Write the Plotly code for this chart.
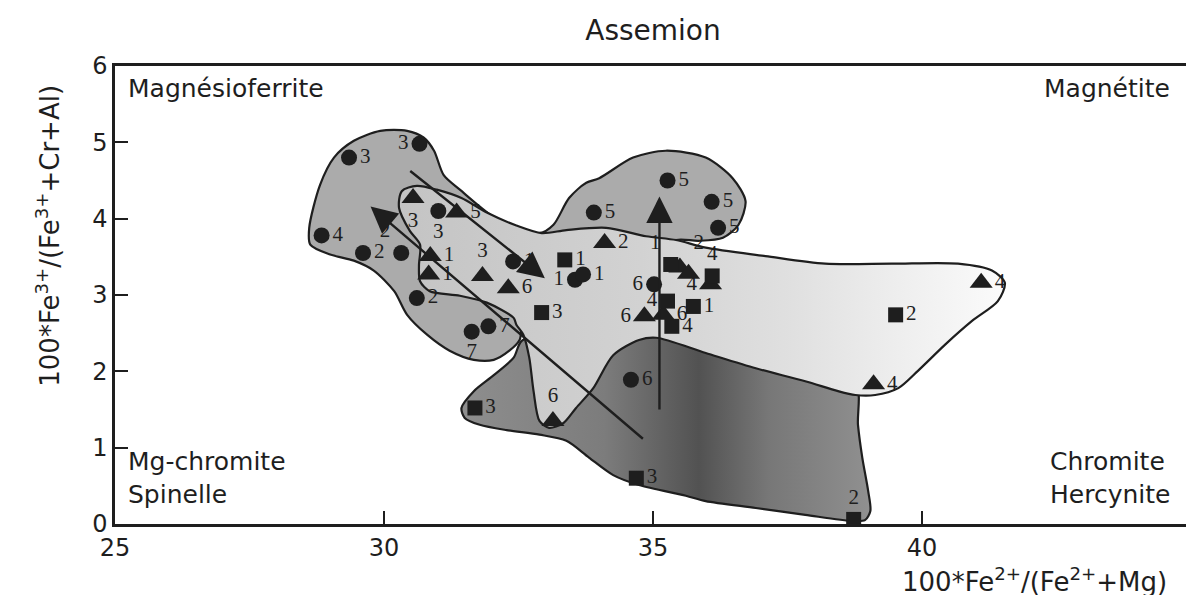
import plotly.graph_objects as go

# contours des domaines (lecture sur la figure)
gris_x = [28.63, 28.61, 28.81, 29.07, 29.44, 29.93, 30.43, 30.74, 30.93, 31.11, 31.41, 32.15, 32.89,
          33.15, 33.44, 33.76, 34.00, 34.63, 35.24, 35.98, 36.48, 36.72, 36.59, 36.30, 35.85, 35.43,
          34.87, 33.94, 33.02, 32.59, 32.52, 32.33, 32.04, 31.67, 31.22, 30.80, 30.43, 30.19, 29.81,
          29.44, 29.00, 28.63]
gris_y = [3.66, 3.88, 4.44, 4.80, 5.02, 5.15, 5.15, 5.06, 4.89, 4.57, 4.38, 3.97, 3.81,
          3.92, 4.27, 4.47, 4.53, 4.80, 4.89, 4.80, 4.53, 4.23, 3.92, 3.75, 3.71, 3.72,
          3.49, 3.22, 2.90, 2.64, 2.41, 2.27, 2.15, 2.15, 2.27, 2.48, 2.74, 3.05, 3.32,
          3.45, 3.53, 3.66]

sombre_x = [31.44, 31.67, 32.04, 32.41, 32.56, 33.39, 35.06, 37.09, 38.76, 38.81, 38.89, 39.00,
            39.04, 38.94, 38.70, 37.83, 36.91, 35.98, 35.61, 34.74, 34.26, 33.81, 33.39, 32.89,
            32.28, 31.78, 31.50, 31.44]
sombre_y = [1.52, 1.74, 1.95, 2.18, 2.40, 2.57, 2.63, 2.31, 1.85, 1.30, 0.87, 0.43,
            0.17, 0.05, 0.04, 0.12, 0.21, 0.30, 0.37, 0.51, 0.64, 0.87, 1.09, 1.17,
            1.23, 1.30, 1.39, 1.52]

clair_x = [30.33, 30.61, 30.98, 31.44, 31.91, 32.46, 32.93, 33.39, 34.13, 34.87, 35.43, 35.98,
           37.09, 38.20, 39.44, 40.67, 41.30, 41.54, 41.41, 40.93, 40.43, 39.93, 39.56, 39.13,
           38.76, 38.44, 37.83, 36.91, 35.98, 35.06, 34.74, 34.26, 33.89, 33.57, 33.33, 33.07,
           32.89, 32.78, 32.70, 32.59, 32.46, 32.41, 31.91, 31.41, 30.85, 30.67, 30.65, 30.67,
           30.48, 30.28, 30.33]
clair_y = [4.36, 4.43, 4.38, 4.27, 4.08, 3.91, 3.81, 3.85, 3.88, 3.77, 3.72, 3.62,
           3.51, 3.41, 3.41, 3.41, 3.32, 3.16, 2.92, 2.66, 2.35, 2.01, 1.78, 1.69,
           1.69, 1.74, 1.87, 2.04, 2.24, 2.44, 2.41, 2.21, 1.78, 1.52, 1.32, 1.26,
           1.35, 1.74, 2.18, 2.48, 2.61, 2.70, 2.90, 2.99, 3.05, 3.18, 3.39, 3.66,
           3.84, 4.14, 4.36]

# analyses
cercle_x = [30.66, 29.35, 28.84, 29.61, 30.32, 30.61, 31.01, 32.40, 33.55, 33.70, 33.90, 35.27,
            36.09, 36.21, 35.02, 31.63, 31.94, 34.59]
cercle_y = [4.98, 4.80, 3.78, 3.55, 3.55, 2.96, 4.10, 3.44, 3.20, 3.27, 4.08, 4.50,
            4.22, 3.88, 3.14, 2.52, 2.59, 1.89]
cercle_num = ['3', '3', '4', '2', '2', '2', '3', '1', '1', '1', '5', '5', '5', '5', '6', '7', '7', '6']

tri_x = [30.54, 31.35, 30.86, 30.83, 31.83, 32.31, 34.10, 35.50, 35.66, 36.07, 34.84, 35.19,
         33.14, 39.10, 41.10]
tri_y = [4.27, 4.08, 3.51, 3.27, 3.25, 3.09, 3.68, 3.36, 3.28, 3.14, 2.72, 2.74,
         1.35, 1.83, 3.16]
tri_num = ['3', '5', '1', '1', '3', '6', '2', '2', ' ', '4', '6', '6', '6', '4', '4']

carre_x = [33.36, 32.93, 35.33, 36.10, 35.27, 35.75, 35.35, 31.69, 34.69, 38.73, 39.51]
carre_y = [3.46, 2.77, 3.40, 3.25, 2.92, 2.85, 2.59, 1.52, 0.60, 0.06, 2.74]
carre_num = ['1', '3', '1', '4', '4', '1', '4', '3', '3', '2', '2']

# fleches d'evolution
fleche_x0 = [30.46, 34.84, 35.12]
fleche_y0 = [4.64, 1.10, 1.48]
fleche_x1 = [32.99, 29.75, 35.12]
fleche_y1 = [3.22, 4.16, 4.29]

pos_cercle = ['middle left', 'middle right', 'middle right', 'middle right', 'top left', 'middle right',
              'bottom center', 'middle right', 'middle left', 'middle right', 'middle right', 'middle right',
              'middle right', 'middle right', 'middle left', 'bottom center', 'middle right', 'middle right']
pos_tri = ['bottom center', 'middle right', 'middle right', 'middle right', 'top center', 'middle right',
           'middle right', 'top right', 'middle right', 'middle left', 'middle left', 'middle right',
           'top center', 'middle right', 'middle right']
pos_carre = ['middle right', 'middle right', 'top left', 'top center', 'middle left', 'middle right',
             'middle right', 'middle right', 'middle right', 'top center', 'middle right']

noir = '#1e1e1e'
sans = 'DejaVu Sans'
police_num = dict(family='Liberation Serif', size=21, color=noir)
contour = dict(color=noir, width=2.2, shape='spline', smoothing=0.8)

fig = go.Figure()

fig.add_trace(go.Scatter(x=gris_x, y=gris_y, mode='lines', fill='toself', fillcolor='#ababab',
                         line=contour, hoverinfo='skip', showlegend=False))
fig.add_trace(go.Scatter(x=sombre_x, y=sombre_y, mode='lines', fill='toself',
                         fillgradient=dict(type='horizontal',
                                           colorscale=[[0, '#8e8e8e'], [0.35, '#7c7c7c'], [0.58, '#525252'],
                                                       [0.75, '#777777'], [1, '#909090']]),
                         line=contour, hoverinfo='skip', showlegend=False))
fig.add_trace(go.Scatter(x=clair_x, y=clair_y, mode='lines', fill='toself',
                         fillgradient=dict(type='horizontal',
                                           colorscale=[[0, '#c4c4c4'], [0.4, '#d2d2d2'], [0.65, '#e0e0e0'],
                                                       [0.85, '#f0f0f0'], [1, '#fbfbfb']]),
                         line=contour, hoverinfo='skip', showlegend=False))

fig.add_trace(go.Scatter(x=cercle_x, y=cercle_y, mode='markers+text', text=cercle_num,
                         textposition=pos_cercle, textfont=police_num,
                         marker=dict(symbol='circle', size=16, color=noir), showlegend=False))
fig.add_trace(go.Scatter(x=tri_x, y=tri_y, mode='markers+text', text=tri_num,
                         textposition=pos_tri, textfont=police_num,
                         marker=dict(symbol='triangle-up', size=20, color=noir), showlegend=False))
fig.add_trace(go.Scatter(x=carre_x, y=carre_y, mode='markers+text', text=carre_num,
                         textposition=pos_carre, textfont=police_num,
                         marker=dict(symbol='square', size=15, color=noir), showlegend=False))

for x0, y0, x1, y1 in zip(fleche_x0, fleche_y0, fleche_x1, fleche_y1):
    fig.add_annotation(x=x1, y=y1, ax=x0, ay=y0, xref='x', yref='y', axref='x', ayref='y',
                       showarrow=True, arrowhead=2, arrowsize=2.2, arrowwidth=2.4,
                       arrowcolor=noir, text='')

police = dict(family=sans, size=25, color=noir)
fig.add_annotation(x=25.2, y=5.7, xref='x', yref='y', text='Magnésioferrite', showarrow=False,
                   xanchor='left', yanchor='middle', font=police)
fig.add_annotation(x=44.65, y=5.7, xref='x', yref='y', text='Magnétite', showarrow=False,
                   xanchor='right', yanchor='middle', font=police)
fig.add_annotation(x=25.2, y=0.17, xref='x', yref='y', text='Mg-chromite<br>Spinelle', showarrow=False,
                   xanchor='left', yanchor='bottom', align='left', font=police)
fig.add_annotation(x=44.65, y=0.17, xref='x', yref='y', text='Chromite<br>Hercynite', showarrow=False,
                   xanchor='right', yanchor='bottom', align='left', font=police)

fig.add_annotation(x=-0.062, y=0.63, xref='paper', yref='paper', textangle=-90, showarrow=False,
                   xanchor='center', yanchor='middle',
                   text='100*Fe<sup>3+</sup>/(Fe<sup>3+</sup>+Cr+Al)',
                   font=dict(family=sans, size=26, color=noir))
fig.add_annotation(x=0.98, y=-0.122, xref='paper', yref='paper', xanchor='right', yanchor='middle',
                   showarrow=False, text='100*Fe<sup>2+</sup>/(Fe<sup>2+</sup>+Mg)',
                   font=dict(family=sans, size=26, color=noir))

axe = dict(showgrid=False, zeroline=False, showline=True, linecolor=noir, linewidth=2.5, mirror=True,
           ticks='inside', ticklen=13, tickwidth=2, tickcolor=noir,
           tickfont=dict(family=sans, size=24, color=noir))

fig.update_layout(
    width=1194, height=595,
    margin=dict(l=107, r=8, t=58, b=79),
    plot_bgcolor='white', paper_bgcolor='white',
    title=dict(text='Assemion', x=0.5, xref='paper', xanchor='center', y=0.962, yanchor='middle',
               font=dict(family=sans, size=28, color=noir)),
    xaxis=dict(range=[25, 45], tickvals=[25, 30, 35, 40, 45], **axe),
    yaxis=dict(range=[0, 6], tickvals=[0, 1, 2, 3, 4, 5, 6], **axe),
)

fig.write_html('out.html')
